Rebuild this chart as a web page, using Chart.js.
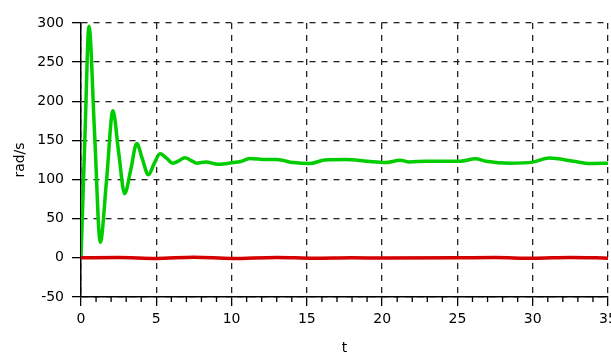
<!DOCTYPE html>
<html>
<head>
<meta charset="utf-8">
<script src="https://cdn.jsdelivr.net/npm/chart.js@4/dist/chart.umd.min.js"></script>
<style>
  html, body { margin: 0; padding: 0; background: #fff; overflow: hidden; }
  #wrap { width: 611px; height: 354px; }
</style>
</head>
<body>
<div id="wrap"><canvas id="c" width="611" height="354"></canvas></div>
<script>
// Angular speed (green) and its small companion trace (red), in rad/s over time t
const greenT = [0, 0.27, 0.53, 0.9, 1.28, 1.7, 2.12, 2.5, 2.9, 3.3, 3.7, 4.08, 4.47, 4.85, 5.25,
  5.7, 6.1, 6.5, 6.9, 7.3, 7.7, 8.3, 9.1, 10.1, 10.6, 11.2, 12.3, 13.0, 14.1, 15.2, 16.2,
  17.6, 19.0, 20.2, 21.2, 21.8, 22.95, 25.2, 26.2, 26.9, 28.5, 30.0, 31.1, 32.7, 33.8, 35.0];
const greenV = [0, 160, 296, 160, 20, 100, 188, 135, 82, 112, 146, 126, 106, 120, 133,
  127, 121, 124, 128, 124.5, 121, 122.5, 119.6, 121.7, 123, 127, 125.5, 125.5, 121.7, 120.5, 125,
  125.5, 123.4, 121.7, 124.6, 122.4, 123.5, 123.5, 126.5, 123.4, 120.9, 122.3, 127.4, 123.4, 120.5, 120.9];

const redT = [0, 2.5, 5, 7.5, 10, 13, 15.5, 18, 20, 25, 27.5, 30, 32.5, 35];
const redV = [0, 0.3, -0.8, 0.8, -0.8, 0.6, -0.6, 0, -0.3, 0, 0.4, -0.6, 0.6, -0.4];

// Axis ranges and tick spacing
const X_MIN = 0, X_MAX = 35, X_STEP = 5, X_MINOR_STEP = 1;
const Y_MIN = -50, Y_MAX = 300, Y_STEP = 50;

const toPoints = (ts, vs) => ts.map((t, i) => ({ x: t, y: vs[i] }));

const FONT = { family: "'DejaVu Sans', sans-serif", size: 14 };

// Short unlabeled ticks between the major x ticks
const minorTicks = {
  id: 'minorTicks',
  afterDraw(chart) {
    const xs = chart.scales.x;
    const ctx = chart.ctx;
    ctx.save();
    ctx.strokeStyle = '#000';
    ctx.lineWidth = 1.3;
    ctx.beginPath();
    for (let v = X_MIN; v <= X_MAX; v += X_MINOR_STEP) {
      if (v % X_STEP === 0) continue;
      const px = xs.getPixelForValue(v);
      ctx.moveTo(px, xs.top);
      ctx.lineTo(px, xs.top + 5);
    }
    ctx.stroke();
    ctx.restore();
  }
};

const gridCommon = {
  color: '#222',
  lineWidth: 1.3,
  tickLength: 9,
  tickColor: '#000',
  tickWidth: 1.3
};
const borderCommon = { display: true, color: '#000', width: 1.5, dash: [6, 6] };

new Chart(document.getElementById('c'), {
  type: 'line',
  data: {
    datasets: [
      {
        label: 'omega',
        data: toPoints(redT, redV),
        borderColor: '#d40000',
        borderWidth: 3.5,
        pointRadius: 0,
        cubicInterpolationMode: 'monotone'
      },
      {
        label: 'speed',
        data: toPoints(greenT, greenV),
        borderColor: '#00cc00',
        borderWidth: 3.5,
        pointRadius: 0,
        cubicInterpolationMode: 'monotone'
      }
    ]
  },
  options: {
    responsive: false,
    animation: false,
    events: [],
    layout: { padding: { top: 23, right: 3, left: 0, bottom: 0 } },
    plugins: { legend: { display: false }, tooltip: { enabled: false } },
    scales: {
      x: {
        type: 'linear',
        min: X_MIN,
        max: X_MAX,
        ticks: { stepSize: X_STEP, color: '#000', font: FONT, padding: 5, maxRotation: 0 },
        grid: gridCommon,
        border: borderCommon,
        title: { display: true, text: 't', color: '#000', font: { ...FONT, lineHeight: 0.85 }, padding: { top: 0, bottom: 0 } },
        afterFit(s) { s.height = 57; s.paddingLeft = 0; s.paddingRight = 0; }
      },
      y: {
        type: 'linear',
        min: Y_MIN,
        max: Y_MAX,
        ticks: { stepSize: Y_STEP, color: '#000', font: FONT, padding: 8 },
        grid: gridCommon,
        border: borderCommon,
        title: { display: true, text: 'rad/s', color: '#000', font: FONT, padding: { top: 12, bottom: 0 } },
        afterFit(s) { s.width = 81; s.paddingTop = 0; s.paddingBottom = 0; }
      }
    }
  },
  plugins: [minorTicks]
});
</script>
</body>
</html>
